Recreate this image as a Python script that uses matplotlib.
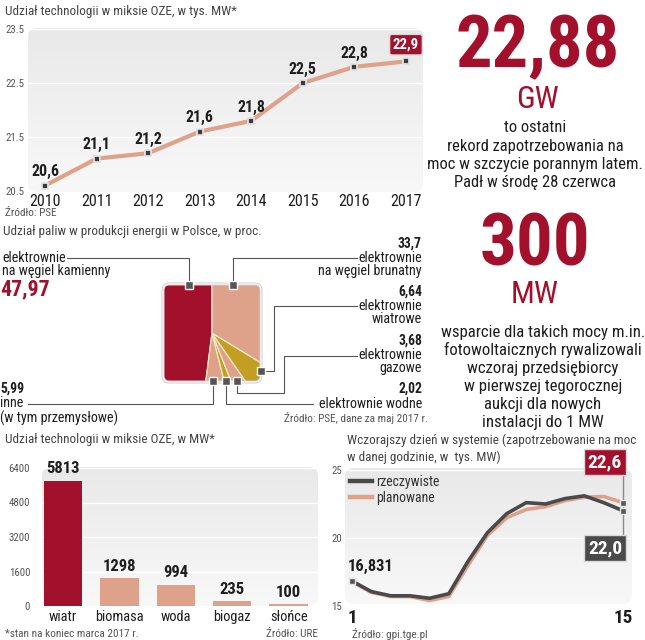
import numpy as np
import matplotlib
matplotlib.use('Agg')
import matplotlib.pyplot as plt
from matplotlib import font_manager as fm
from matplotlib.font_manager import FontProperties
from matplotlib.textpath import TextPath
from matplotlib.patches import FancyBboxPatch
from matplotlib.lines import Line2D
from matplotlib.transforms import Affine2D
from matplotlib.colors import LinearSegmentedColormap

# ---------------- data ----------------
years = [2010, 2011, 2012, 2013, 2014, 2015, 2016, 2017]
oze_thousand_mw = [20.6, 21.1, 21.2, 21.6, 21.8, 22.5, 22.8, 22.9]
oze_yticks = [20.5, 21.5, 22.5, 23.5]

fuel_names = ['elektrownie\nna węgiel kamienny', 'inne', 'elektrownie wodne',
              'elektrownie\ngazowe', 'elektrownie\nwiatrowe', 'elektrownie\nna węgiel brunatny']
fuel_share = [47.97, 5.99, 2.02, 3.68, 6.64, 33.7]

tech_names = ['wiatr', 'biomasa', 'woda', 'biogaz', 'słońce']
tech_mw = [5813, 1298, 994, 235, 100]
tech_yticks = [0, 1600, 3200, 4800, 6400]

hours = list(range(1, 16))
demand_actual = [16.831, 16.06, 15.75, 15.75, 15.57, 15.9, 18.3, 20.4, 21.8, 22.6,
                 22.5, 22.9, 23.1, 22.6, 22.0]
demand_plan = [16.8, 16.0, 15.7, 15.7, 15.4, 15.7, 18.0, 20.2, 21.5, 22.1,
               22.3, 22.75, 23.0, 23.05, 22.6]
demand_yticks = [15, 20, 25]

# ---------------- fonts ----------------
ttf = fm.fontManager.ttflist
fam_names = {f.name for f in ttf}
FAMILY, STRETCH = 'Roboto', 'normal'
for cand in ['Liberation Sans Narrow', 'Roboto Condensed', 'Open Sans Condensed',
             'Noto Sans Condensed', 'DejaVu Sans Condensed']:
    if cand in fam_names:
        FAMILY = cand
        break
else:
    if any(f.name == 'DejaVu Sans' and f.stretch in ('condensed', 'semi-condensed') for f in ttf):
        FAMILY, STRETCH = 'DejaVu Sans', 'condensed'
plt.rcParams['font.family'] = [FAMILY, 'DejaVu Sans']
plt.rcParams['font.stretch'] = STRETCH


def fs(sample, target_px, weight='normal'):
    """font size (pt) that gives the sample text the target ink width in pixels"""
    prop = FontProperties(family=[FAMILY, 'DejaVu Sans'], weight=weight, stretch=STRETCH)
    w = TextPath((0, 0), sample, size=10, prop=prop).get_extents().width * 100 / 72
    return 10 * target_px / w


def fs_h(sample, target_px, weight='normal'):
    """font size (pt) that gives the sample text the target ink height in pixels"""
    prop = FontProperties(family=[FAMILY, 'DejaVu Sans'], weight=weight, stretch=STRETCH)
    h = TextPath((0, 0), sample, size=10, prop=prop).get_extents().height * 100 / 72
    return 10 * target_px / h


DARKRED = '#A3102C'
SALMON = '#DEA18A'
OLIVE = '#C29E22'
DARK = '#4A4A4A'
GRAYTXT = '#555555'
TXT = '#1E1E1E'

S_TITLE = fs('Udział technologii w miksie OZE, w tys. MW*', 232)
S_SRC = fs('Źródło: PSE, dane za maj 2017 r.', 142)
S_TICK = fs('23.5', 18)
S_YEAR = fs('2010', 30)
S_VAL = fs('20,6', 27, 'bold')
S_LBL = fs('na węgiel brunatny', 103)
S_PVAL = fs('33,7', 23, 'bold')
S_BIG = fs('47,97', 48, 'bold')
S_CAT = fs('biomasa', 47)
S_BVAL = fs('5813', 32, 'bold')
S_LVAL = fs('16,831', 42, 'bold')
S_BOX = fs('22,6', 33, 'bold')
S_XT = fs('15', 17, 'bold')
S_LEG = fs('rzeczywiste', 62)
S_HUGE1 = min(fs('22,88', 167, 'bold'), fs_h('2288', 53, 'bold'))
S_HUGE2 = min(fs('300', 105, 'bold'), fs_h('300', 55, 'bold'))
S_UNIT = fs('GW', 40)
S_B1 = fs('moc w szczycie porannym latem.', 214)
S_B2 = fs('wsparcie dla takich mocy m.in.', 202)

W, H = 645, 640
fig = plt.figure(figsize=(W / 100, H / 100), dpi=100)
fig.patch.set_facecolor('white')
PX = Affine2D().scale(1 / W, -1 / H).translate(0, 1) + fig.transFigure


def axbox(x0, y0, x1, y1):
    return fig.add_axes([x0 / W, 1 - y1 / H, (x1 - x0) / W, (y1 - y0) / H])


def T(x, y, s, **kw):
    kw.setdefault('va', 'center')
    kw.setdefault('color', TXT)
    return fig.text(x / W, 1 - y / H, s, **kw)


def L(pts, **kw):
    xs = [p[0] for p in pts]
    ys = [p[1] for p in pts]
    fig.add_artist(Line2D(xs, ys, transform=PX, color='#555555', lw=0.8, **kw))


gcmap = LinearSegmentedColormap.from_list('g', ['#F8F8F8', '#E9E9E9'])


def panel(x0, y0, x1, y1, r=9):
    p = FancyBboxPatch((x0, y0), x1 - x0, y1 - y0,
                       boxstyle=f'round,pad=0,rounding_size={r}',
                       transform=PX, facecolor='none', edgecolor='none')
    fig.add_artist(p)
    bg = axbox(x0, y0, x1, y1)
    bg.set_zorder(-2)
    bg.axis('off')
    grad = np.linspace(0, 1, 100).reshape(-1, 1)
    im = bg.imshow(grad, aspect='auto', extent=(0, 1, 0, 1), cmap=gcmap,
                   origin='lower', interpolation='bicubic')
    im.set_clip_path(p)


def fmt(v, nd=None):
    s = f'{v:g}' if nd is None else f'{v:.{nd}f}'
    return s.replace('.', ',')


def clean(ax):
    ax.set_facecolor('none')
    for s in ax.spines.values():
        s.set_visible(False)


# ================= chart 1: OZE line =================
T(5, 12, 'Udział technologii w miksie OZE, w tys. MW*', fontsize=S_TITLE, color='#444444')
panel(28, 28, 423, 192)
ax1 = axbox(28, 29, 423, 191)
clean(ax1)
ax1.set_xlim(2009.67, 2017.33)
ax1.set_ylim(20.5, 23.5)
ax1.grid(axis='y', color='white', lw=1)
ax1.set_axisbelow(True)
ax1.plot(years, oze_thousand_mw, color=SALMON, lw=3, zorder=3, solid_capstyle='round',
         marker='s', ms=4.5, mfc='#3A3A3A', mec='#E2E2E2', mew=1.3)
ax1.set_yticks(oze_yticks)
ax1.set_yticklabels([f'{v:.1f}' for v in oze_yticks])
ax1.tick_params(axis='y', length=0, pad=2.5, labelsize=S_TICK, labelcolor=GRAYTXT)
ax1.set_xticks(years)
ax1.set_xticklabels([str(y) for y in years])
ax1.tick_params(axis='x', length=0, pad=2, labelsize=S_YEAR, labelcolor=TXT)
for i, (x, v) in enumerate(zip(years, oze_thousand_mw)):
    if i == len(years) - 1:
        ax1.annotate(fmt(v, 1), (x, v), xytext=(0, 7), textcoords='offset points',
                     ha='center', va='bottom', fontsize=S_VAL * 0.93, fontweight='bold', color='white',
                     bbox=dict(boxstyle='round,pad=0.22,rounding_size=0.15', fc=DARKRED, ec='#D9D9D9', lw=1))
    else:
        ax1.annotate(fmt(v, 1), (x, v), xytext=(0, 4.5), textcoords='offset points',
                     ha='center', va='bottom', fontsize=S_VAL, fontweight='bold', color=TXT)
T(5, 213, 'Źródło: PSE', fontsize=S_SRC, color=GRAYTXT)

# ================= chart 2: fuel pie =================
T(3, 231, 'Udział paliw w produkcji energii w Polsce, w proc.', fontsize=S_TITLE, color='#444444')
ax2 = axbox(163, 284, 261, 382)
fuel_colors = [DARKRED, SALMON, OLIVE, SALMON, OLIVE, SALMON]
wedges, _ = ax2.pie(fuel_share, colors=fuel_colors, startangle=90, counterclock=True,
                    radius=1.7, wedgeprops=dict(edgecolor='#F4E7C4', linewidth=0.9))
ax2.set_xlim(-1, 1)
ax2.set_ylim(-1, 1)
ax2.set_aspect('equal')
ax2.axis('off')
clip = FancyBboxPatch((-1, -1), 2, 2, boxstyle='round,pad=0,rounding_size=0.13',
                      transform=ax2.transData, fc='none', ec='none')
for w in wedges:
    w.set_clip_on(True)
    w.set_clip_path(clip)
for ec, lw in [('#CFCFCF', 2.2), ('white', 0.8)]:
    ax2.add_patch(FancyBboxPatch((-1, -1), 2, 2, boxstyle='round,pad=0,rounding_size=0.13',
                                 fc='none', ec=ec, lw=lw, clip_on=False, zorder=5))

# leader lines and markers (annotation decorations)
L([(67, 258), (189, 258), (189, 285)])
L([(233, 285), (233, 258), (357, 258)])
L([(261, 371), (274, 371), (274, 306), (357, 306)])
L([(237, 381), (237, 393), (284, 393), (284, 356), (357, 356)])
L([(226, 381), (226, 404), (313, 404)])
L([(28, 404), (213, 404), (213, 381)])
for (mx, my) in [(189, 285), (233, 285), (261, 371), (237, 381), (226, 381), (213, 381)]:
    fig.add_artist(Line2D([mx], [my], transform=PX, marker='s', ms=5.5,
                          mfc='#555555', mec='white', mew=1.0, zorder=10))

# left labels
T(2, 258, fuel_names[0].split('\n')[0], fontsize=S_LBL)
T(2, 271, fuel_names[0].split('\n')[1], fontsize=S_LBL)
T(0, 289, fmt(fuel_share[0]), fontsize=S_BIG, fontweight='bold', color=DARKRED)
T(0, 389, fmt(fuel_share[1]), fontsize=S_PVAL, fontweight='bold')
T(0, 403, fuel_names[1], fontsize=S_LBL)
T(0, 418, '(w tym przemysłowe)', fontsize=S_LBL)
# right labels
RX = 422
right_items = [(5, 244), (4, 292), (3, 341)]
for idx, y in right_items:
    T(RX, y, fmt(fuel_share[idx]), fontsize=S_PVAL, fontweight='bold', ha='right')
    a, b = fuel_names[idx].split('\n')
    T(RX, y + 14, a, fontsize=S_LBL, ha='right')
    T(RX, y + 27, b, fontsize=S_LBL, ha='right')
T(RX, 389, fmt(fuel_share[2]), fontsize=S_PVAL, fontweight='bold', ha='right')
T(RX, 404, fuel_names[2], fontsize=S_LBL, ha='right')
T(428, 418, 'Źródło: PSE, dane za maj 2017 r.', fontsize=S_SRC, ha='right', color=GRAYTXT)

# ================= chart 3: bar =================
T(5, 440, 'Udział technologii w miksie OZE, w MW*', fontsize=S_TITLE, color='#444444')
panel(42, 467, 318, 606)
ax3 = axbox(42, 468, 318, 606)
clean(ax3)
ax3.set_xlim(-0.37, 4.52)
ax3.set_ylim(0, 6400)
ax3.grid(axis='y', color='white', lw=1)
ax3.set_axisbelow(True)
xpos = np.arange(len(tech_names))
bar_colors = [DARKRED] + [SALMON] * (len(tech_names) - 1)
ax3.bar(xpos, tech_mw, width=0.68, color=bar_colors, zorder=3)
ax3.set_yticks(tech_yticks)
ax3.set_yticklabels([str(v) for v in tech_yticks])
ax3.tick_params(axis='y', length=0, pad=8.5, labelsize=S_TICK, labelcolor=GRAYTXT)
ax3.set_xticks(xpos)
ax3.set_xticklabels(tech_names)
ax3.tick_params(axis='x', length=0, pad=3, labelsize=S_CAT, labelcolor=TXT)
for x, v in zip(xpos, tech_mw):
    ax3.annotate(str(v), (x, v), xytext=(0, 3), textcoords='offset points', ha='center',
                 va='bottom', fontsize=S_BVAL, fontweight='bold', color=TXT)
T(5, 634, '*stan na koniec marca 2017 r.', fontsize=S_SRC, color=GRAYTXT)
T(318, 634, 'Źródło: URE', fontsize=S_SRC, color=GRAYTXT, ha='right')

# ================= chart 4: demand =================
T(347, 440, 'Wczorajszy dzień w systemie (zapotrzebowanie na moc', fontsize=S_TITLE, color='#444444')
T(347, 457, 'w danej godzinie, w  tys. MW)', fontsize=S_TITLE, color='#444444')
panel(345, 468, 632, 604)
ax4 = axbox(345, 470, 632, 606)
clean(ax4)
ax4.set_xlim(0.64, 15.46)
ax4.set_ylim(15, 25)
ax4.grid(axis='y', color='white', lw=1)
ax4.set_axisbelow(True)
ax4.plot([hours[-1], hours[-1]], [20, 25], color='#8A8A8A', lw=1, clip_on=False, zorder=2)
lp, = ax4.plot(hours, demand_plan, color=SALMON, lw=2.6, zorder=3, label='planowane')
la, = ax4.plot(hours, demand_actual, color=DARK, lw=2.6, zorder=4, label='rzeczywiste')
for yv in [demand_actual[0]]:
    ax4.plot([hours[0]], [yv], marker='s', ms=4, mfc='#555555', mec='#E5E5E5',
             mew=1, zorder=6, clip_on=False)
for yv in [demand_actual[-1], demand_plan[-1]]:
    ax4.plot([hours[-1]], [yv], marker='s', ms=4, mfc='#555555', mec='#E5E5E5',
             mew=1, zorder=6, clip_on=False)
ax4.set_yticks(demand_yticks)
ax4.set_yticklabels([str(v) for v in demand_yticks])
ax4.tick_params(axis='y', length=0, pad=2, labelsize=S_TICK, labelcolor=GRAYTXT)
ax4.set_xticks([hours[0], hours[-1]])
ax4.set_xticklabels([str(hours[0]), str(hours[-1])])
ax4.tick_params(axis='x', length=0, pad=2, labelsize=S_XT, labelcolor=TXT)
for t in ax4.get_xticklabels():
    t.set_fontweight('bold')
ax4.annotate(fmt(demand_actual[0]), (hours[0], demand_actual[0]), xytext=(-3, 5),
             textcoords='offset points', ha='left', va='bottom', fontsize=S_LVAL,
             fontweight='bold', color=TXT)
ax4.annotate(fmt(demand_plan[-1], 1), (hours[-1], demand_plan[-1]), xytext=(605, H - 462),
             textcoords='figure pixels', ha='center', va='center', fontsize=S_BOX,
             fontweight='bold', color='white',
             bbox=dict(boxstyle='square,pad=0.18', fc=DARKRED, ec='#D9D9D9', lw=1))
ax4.annotate(fmt(demand_actual[-1], 1), (hours[-1], demand_actual[-1]), xytext=(605, H - 548),
             textcoords='figure pixels', ha='center', va='center', fontsize=S_BOX,
             fontweight='bold', color='white',
             bbox=dict(boxstyle='square,pad=0.18', fc=DARK, ec='#D9D9D9', lw=1))
leg = ax4.legend(handles=[la, lp], loc='upper left', bbox_to_anchor=(350 / W, 1 - 475 / H),
                 bbox_transform=fig.transFigure, frameon=False, fontsize=S_LEG,
                 handlelength=1.6, handletextpad=0.3, borderpad=0, borderaxespad=0,
                 labelspacing=0.15)
for t in leg.get_texts():
    t.set_color('#333333')
for h in leg.get_lines():
    h.set_linewidth(3.2)
T(352, 634, 'Źródło: gpi.tge.pl', fontsize=S_SRC, color=GRAYTXT)

# ================= right column =================
T(538, 67, '22,88', fontsize=S_HUGE1, fontweight='bold', color=DARKRED, ha='center', va='baseline')
T(538, 108, 'GW', fontsize=S_UNIT, color=DARKRED, ha='center', va='baseline')
for y, s in zip([128, 146, 164, 182], ['to ostatni', 'rekord zapotrzebowania na',
                                        'moc w szczycie porannym latem.',
                                        'Padł w środę 28 czerwca']):
    T(535, y, s, fontsize=S_B1, ha='center')
T(535, 265, '300', fontsize=S_HUGE2, fontweight='bold', color=DARKRED, ha='center', va='baseline')
T(535, 303, 'MW', fontsize=S_UNIT, color=DARKRED, ha='center', va='baseline')
for y, s in zip([332, 350, 368, 386, 404, 422],
                ['wsparcie dla takich mocy m.in.', 'fotowoltaicznych rywalizowali',
                 'wczoraj przedsiębiorcy', 'w pierwszej tegorocznej',
                 'aukcji dla nowych', 'instalacji do 1 MW']):
    T(543, y, s, fontsize=S_B2, ha='center')

fig.savefig('out.png', dpi=100)
